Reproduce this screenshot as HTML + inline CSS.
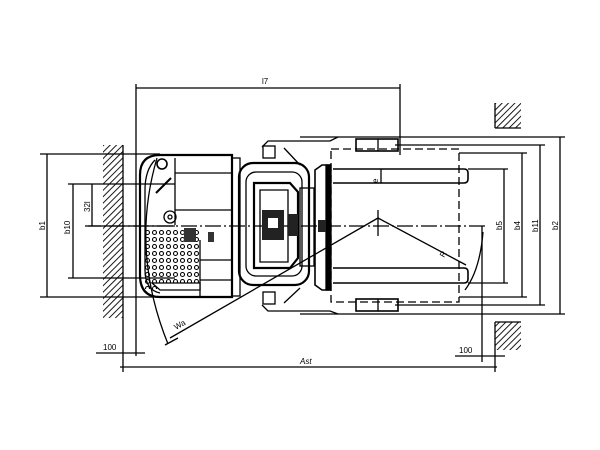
<!DOCTYPE html>
<html><head><meta charset="utf-8"><style>
html,body{margin:0;padding:0;background:#fff;}
svg{display:block}
text{font-family:"Liberation Sans",sans-serif;font-size:8px;fill:#000}
</style></head><body>
<svg width="600" height="450" viewBox="0 0 600 450" xmlns="http://www.w3.org/2000/svg">
<defs>
<pattern id="h" width="4.5" height="4.5" patternUnits="userSpaceOnUse" patternTransform="rotate(45)">
<line x1="0" y1="0" x2="0" y2="5" stroke="#000" stroke-width="1.8"/>
</pattern>
<pattern id="d" width="7" height="7" patternUnits="userSpaceOnUse" x="144" y="229">
<circle cx="3.5" cy="3.5" r="2" fill="none" stroke="#000" stroke-width="1.1"/>
</pattern>
</defs>
<g stroke="#000" fill="none" stroke-width="1.3">
<rect x="103" y="145" width="20" height="173" fill="url(#h)" stroke="none"/>
<rect x="495" y="103" width="26" height="25" fill="url(#h)" stroke="none"/>
<rect x="495" y="322" width="26" height="28" fill="url(#h)" stroke="none"/>
<line x1="123" y1="145" x2="123" y2="372"/>
<line x1="495" y1="103" x2="495" y2="128"/>
<line x1="495" y1="128" x2="521" y2="128"/>
<line x1="495" y1="322" x2="495" y2="372"/>
<line x1="495" y1="322" x2="521" y2="322"/>
<line x1="136" y1="88" x2="400" y2="88"/>
<line x1="136" y1="84" x2="136" y2="356"/>
<line x1="400" y1="84" x2="400" y2="155"/>
<line x1="120" y1="367" x2="497" y2="367"/>
<line x1="40" y1="154" x2="160" y2="154"/>
<line x1="40" y1="297" x2="160" y2="297"/>
<line x1="47" y1="154" x2="47" y2="297"/>
<line x1="68" y1="184" x2="175" y2="184"/>
<line x1="68" y1="278" x2="175" y2="278"/>
<line x1="73" y1="184" x2="73" y2="278"/>
<line x1="88" y1="226" x2="175" y2="226"/>
<line x1="92" y1="184" x2="92" y2="226"/>
<line x1="96" y1="353" x2="145" y2="353"/>
<line x1="455" y1="356" x2="505" y2="356"/>
<line x1="482" y1="226" x2="482" y2="362"/>
<line x1="85" y1="226" x2="486" y2="226" stroke-dasharray="16,3,2,3"/>
<line x1="300" y1="137" x2="565" y2="137"/>
<line x1="300" y1="314" x2="565" y2="314"/>
<line x1="395" y1="145" x2="545" y2="145"/>
<line x1="395" y1="305" x2="545" y2="305"/>
<line x1="459" y1="153" x2="527" y2="153"/>
<line x1="459" y1="297" x2="527" y2="297"/>
<line x1="468" y1="169" x2="508" y2="169"/>
<line x1="468" y1="283" x2="508" y2="283"/>
<line x1="560" y1="137" x2="560" y2="314"/>
<line x1="540" y1="145" x2="540" y2="305"/>
<line x1="522" y1="153" x2="522" y2="297"/>
<line x1="504" y1="169" x2="504" y2="283"/>
<rect x="331" y="149" width="128" height="153" stroke-dasharray="8,4"/>
<path d="M333 169 H464 q4 0 4 4 v6 q0 4 -4 4 H333" stroke-width="1.6"/>
<path d="M333 268 H464 q4 0 4 4 v7 q0 4 -4 4 H333" stroke-width="1.6"/>
<line x1="381" y1="169" x2="381" y2="183"/>
<line x1="378" y1="210" x2="378" y2="236"/>
<line x1="378" y1="218" x2="466" y2="265"/>
<line x1="378" y1="218" x2="170" y2="338"/>
<path d="M483 232 Q480 270 465 290"/>
<path d="M157 158 Q130 250 168 344"/>
<line x1="165" y1="345" x2="178" y2="338"/>
<path d="M262 147 L268 141 H330 L338 137"/>
<path d="M262 305 L268 311 H330 L338 314"/>
<rect x="356" y="139" width="42" height="12" stroke-width="1.6"/>
<line x1="378" y1="139" x2="378" y2="151"/>
<rect x="356" y="299" width="42" height="12" stroke-width="1.6"/>
<line x1="378" y1="299" x2="378" y2="311"/>
<path d="M160 155 H232 V297 H160 Q140 297 140 275 V175 Q140 155 160 155 Z" stroke-width="2.2"/>
<path d="M155 160 Q145 170 145 190 V270 Q145 290 160 293" />
<line x1="175" y1="158" x2="175" y2="225"/>
<line x1="175" y1="210" x2="232" y2="210"/>
<line x1="175" y1="173" x2="232" y2="173"/>
<line x1="200" y1="240" x2="200" y2="297"/>
<line x1="200" y1="260" x2="232" y2="260"/>
<line x1="200" y1="280" x2="232" y2="280"/>
<circle cx="162" cy="164" r="5" stroke-width="1.6"/>
<circle cx="170" cy="217" r="6"/>
<circle cx="170" cy="217" r="2"/>
<line x1="156" y1="193" x2="171" y2="178" stroke-width="2"/>
<rect x="144" y="229" width="56" height="60" fill="url(#d)" stroke="none"/>
<path d="M152 283 H200 V290 H160 Z" fill="#fff"/>
<rect x="184" y="228" width="12" height="14" fill="#333" stroke="none"/>
<rect x="208" y="232" width="6" height="10" fill="#333" stroke="none"/>
<rect x="232" y="158" width="8" height="138"/>
<rect x="239" y="163" width="70" height="122" rx="14" stroke-width="2.2"/>
<rect x="246" y="172" width="56" height="104" rx="10"/>
<path d="M254 183 H290 L298 192 V258 L290 268 H254 Z" fill="none" stroke-width="2.2"/>
<path d="M260 190 H288 V262 H260 Z" fill="none"/>
<rect x="262" y="210" width="22" height="30" fill="#222" stroke="none"/>
<rect x="268" y="218" width="10" height="10" fill="#fff" stroke="none"/>
<rect x="288" y="214" width="10" height="22" fill="#222" stroke="none"/>
<rect x="300" y="188" width="14" height="78"/>
<path d="M315 170 L322 165 H330 V290 H322 L315 285 Z" stroke-width="1.6"/>
<rect x="326" y="165" width="5" height="125" fill="#000"/>
<rect x="318" y="220" width="8" height="12" fill="#222" stroke="none"/>
<line x1="284" y1="148" x2="300" y2="165"/>
<line x1="284" y1="303" x2="300" y2="288"/>
<rect x="263" y="146" width="12" height="12"/>
<rect x="263" y="292" width="12" height="12"/>
</g>
<text x="262" y="84">l7</text>
<text x="300" y="364" font-style="italic">Ast</text>
<text x="103" y="350">100</text>
<text x="459" y="353">100</text>
<text transform="translate(45,230) rotate(-90)">b1</text>
<text transform="translate(70,234) rotate(-90)">b10</text>
<text transform="translate(90,212) rotate(-90)">32l</text>
<text transform="translate(502,230) rotate(-90)">b5</text>
<text transform="translate(520,230) rotate(-90)">b4</text>
<text transform="translate(538,232) rotate(-90)">b11</text>
<text transform="translate(558,230) rotate(-90)">b2</text>
<text transform="translate(378,183) rotate(-90)" font-size="6">e</text>
<text transform="translate(176,330) rotate(-30)">Wa</text>
<text transform="translate(444,258) rotate(-60)" font-size="7">R</text>
</svg>
</body></html>
